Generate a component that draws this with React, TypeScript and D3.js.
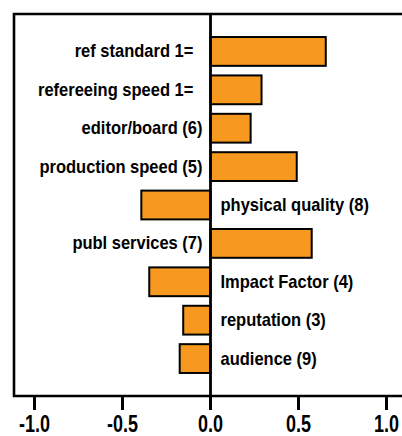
import { useRef, useEffect } from "react";
import { select, scaleLinear, scaleBand } from "d3";

// Data
const categories = [
  "ref standard 1=\u00a0\u00a0",
  "refereeing speed 1=\u00a0\u00a0",
  "editor/board (6)",
  "production speed (5)",
  "physical quality (8)",
  "publ services (7)",
  "Impact Factor (4)",
  "reputation (3)",
  "audience (9)",
];
const values = [0.655, 0.29, 0.228, 0.49, -0.393, 0.575, -0.348, -0.155, -0.175];
const ticks = [-1.0, -0.5, 0.0, 0.5, 1.0];

const font = "'Liberation Sans', Arial, sans-serif";

const App = () => {
  const svgRef = useRef<SVGSVGElement | null>(null);

  useEffect(() => {
    const svg = select(svgRef.current);
    svg.selectAll("*").remove();

    // Scales
    const x = scaleLinear().domain([-1, 1]).range([34.5, 386.5]);
    const y = scaleBand<string>()
      .domain(categories)
      .range([14, 396])
      .paddingInner(0.25)
      .paddingOuter(0.6);

    const rows = categories.map((c, i) => ({ c, v: values[i] }));

    // Frame (left, top, bottom)
    svg
      .append("path")
      .attr("d", "M406,14 H14 V396 H406")
      .attr("fill", "none")
      .attr("stroke", "#000")
      .attr("stroke-width", 2.6);

    // Bars
    svg
      .selectAll(".bar")
      .data(rows)
      .join("rect")
      .attr("class", "bar")
      .attr("x", (d) => Math.min(x(0), x(d.v)))
      .attr("y", (d) => y(d.c)!)
      .attr("width", (d) => Math.abs(x(d.v) - x(0)))
      .attr("height", y.bandwidth())
      .attr("fill", "#f7991f")
      .attr("stroke", "#000")
      .attr("stroke-width", 2);

    // Zero line
    svg
      .append("line")
      .attr("x1", x(0))
      .attr("x2", x(0))
      .attr("y1", 14)
      .attr("y2", 396)
      .attr("stroke", "#000")
      .attr("stroke-width", 2.8);

    // Category labels, on the opposite side of the bar
    svg
      .selectAll(".lbl")
      .data(rows)
      .join("text")
      .attr("class", "lbl")
      .attr("transform", (d) => {
        const tx = d.v >= 0 ? x(0) - 8 : x(0) + 10;
        const ty = y(d.c)! + y.bandwidth() / 2 + 6;
        return `translate(${tx},${ty}) scale(1,1.15)`;
      })
      .attr("text-anchor", (d) => (d.v >= 0 ? "end" : "start"))
      .attr("font-family", font)
      .attr("font-weight", "bold")
      .attr("font-size", 16.5)
      .text((d) => d.c);

    // X axis ticks
    svg
      .selectAll(".tick")
      .data(ticks)
      .join("line")
      .attr("class", "tick")
      .attr("x1", (d) => x(d))
      .attr("x2", (d) => x(d))
      .attr("y1", 396)
      .attr("y2", 410)
      .attr("stroke", "#000")
      .attr("stroke-width", 3);

    svg
      .selectAll(".tlbl")
      .data(ticks)
      .join("text")
      .attr("class", "tlbl")
      .attr("transform", (d) => `translate(${x(d)},432) scale(1,1.3)`)
      .attr("text-anchor", "middle")
      .attr("font-family", font)
      .attr("font-weight", "bold")
      .attr("font-size", 18)
      .text((d) => d.toFixed(1));
  }, []);

  return (
    <svg
      ref={svgRef}
      width={402}
      height={436}
      style={{ position: "absolute", left: 0, top: 0, background: "#fff" }}
    />
  );
};

export default App;
